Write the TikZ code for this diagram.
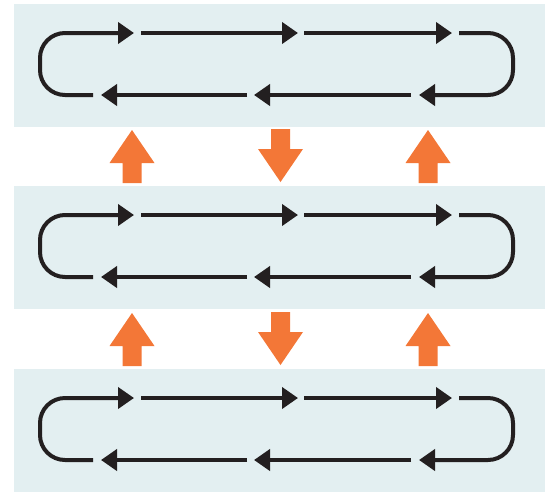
\documentclass[tikz,border=0pt]{standalone}
\usepackage{tikz}
\usetikzlibrary{arrows.meta}

\definecolor{panelblue}{HTML}{E3EFF1}
\definecolor{flow}{HTML}{231F20}
\definecolor{pump}{HTML}{F37737}

\tikzset{
	up block/.pic={\fill[pump] (0,0) -- (22.5,33) -- (9.5,33) -- (9.5,53) -- (-9.5,53) -- (-9.5,33) -- (-22.5,33) -- cycle;},
	down block/.pic={\fill[pump] (-9.5,0) -- (9.5,0) -- (9.5,20) -- (22.5,20) -- (0,53) -- (-22.5,20) -- (-9.5,20) -- cycle;}
}

\begin{document}
\begin{tikzpicture}[x=1pt, y=-1pt, line width=4pt, >={Triangle[length=16pt,width=21pt]}]
	\useasboundingbox (0,0) rectangle (551,491);
	\foreach \i/\dy in {1/0,2/182,3/365} {
		\fill[panelblue] (14,4+\dy) rectangle (545,127+\dy);
		% top row, left to right
		\coordinate (l\i) at (93,95+\dy);
		\coordinate (a\i) at (134,33+\dy);
		\coordinate (b\i) at (141,33+\dy);
		\coordinate (c\i) at (298,33+\dy);
		\coordinate (d\i) at (304,33+\dy);
		\coordinate (e\i) at (452,33+\dy);
		\coordinate (r\i) at (459,33+\dy);
		% bottom row, right to left
		\coordinate (f\i) at (419,95+\dy);
		\coordinate (g\i) at (411,95+\dy);
		\coordinate (h\i) at (254,95+\dy);
		\coordinate (k\i) at (247,95+\dy);
		\coordinate (m\i) at (101,95+\dy);
		\draw[flow, ->, rounded corners=25pt] (l\i) -| (40,33+\dy) -- (a\i);
		\draw[flow, ->] (b\i) -- (c\i);
		\draw[flow, ->] (d\i) -- (e\i);
		\draw[flow, ->, rounded corners=25pt] (r\i) -| (513,95+\dy) -- (f\i);
		\draw[flow, ->] (g\i) -- (h\i);
		\draw[flow, ->] (k\i) -- (m\i);
	}
	\foreach \dy in {0,183} {
		\pic at (132,130+\dy) {up block};
		\pic at (280.5,129+\dy) {down block};
		\pic at (428,130+\dy) {up block};
	}
\end{tikzpicture}
\end{document}
